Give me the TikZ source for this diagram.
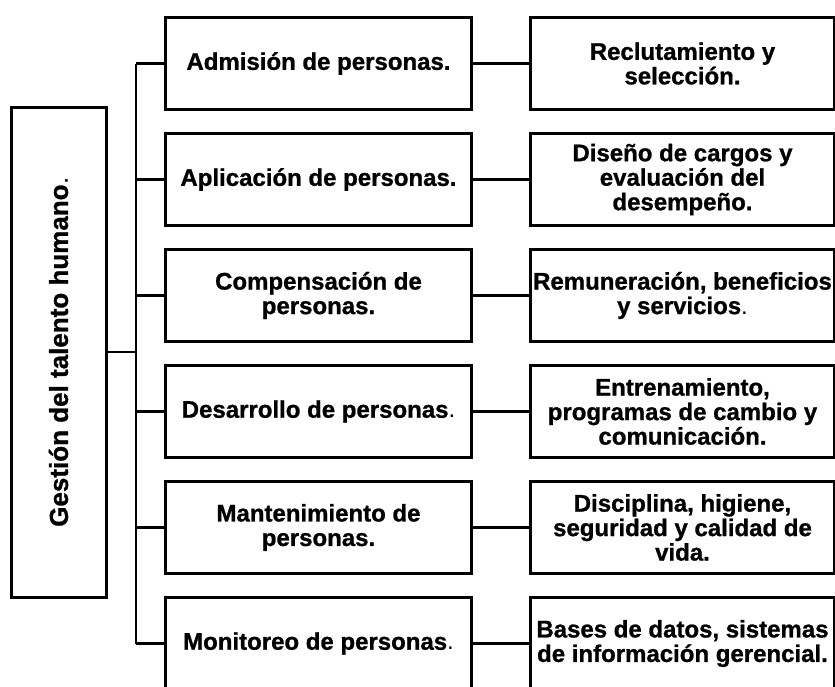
\documentclass[tikz,border=0pt]{standalone}
\usepackage{fontspec}
\setmainfont{Liberation Sans}[BoldFeatures={FakeBold=1}]
\begin{document}
\begin{tikzpicture}[x=1pt,y=-1pt,
  txt/.style={font=\fontsize{24}{24.5}\selectfont\bfseries,align=center,inner sep=0pt},
  midbox/.style={txt,draw,line width=3pt,minimum width=306pt,minimum height=92pt,anchor=north west},
  rightbox/.style={txt,draw,line width=3pt,minimum width=304pt,minimum height=92pt,anchor=north west},
  mainbox/.style={draw,line width=3pt,rotate=90,minimum width=490pt,minimum height=95pt,inner sep=0pt,
    font=\fontsize{26}{28}\selectfont\bfseries},
  conn/.style={line width=2.3pt}]
\useasboundingbox (0,0) rectangle (835,686);
\clip (0,0) rectangle (835,686);

\node[mainbox] (gth) at (58.5,352) {Gestión del talento humano{\mdseries .}};

\node[midbox] (m1) at (164,16)  {Admisión de personas.};
\node[midbox] (m2) at (164,132) {Aplicación de personas.};
\node[midbox] (m3) at (164,248) {Compensación de\\personas.};
\node[midbox] (m4) at (164,364) {Desarrollo de personas{\mdseries .}};
\node[midbox] (m5) at (164,480) {Mantenimiento de\\personas.};
\node[midbox] (m6) at (164,596) {Monitoreo de personas{\mdseries .}};

\node[rightbox] (r1) at (529,16)  {Reclutamiento y\\selección.};
\node[rightbox] (r2) at (529,132) {Diseño de cargos y\\evaluación del\\desempeño.};
\node[rightbox] (r3) at (529,248) {Remuneración, beneficios\\y servicios{\mdseries .}};
\node[rightbox] (r4) at (529,364) {Entrenamiento,\\programas de cambio y\\comunicación.};
\node[rightbox] (r5) at (529,480) {Disciplina, higiene,\\seguridad y calidad de\\vida.};
\node[rightbox] (r6) at (529,596) {Bases de datos, sistemas\\de información gerencial.};

\coordinate (sT) at (136,0);
\draw[conn] (m1.west -| sT) -- (m6.west -| sT);
\draw[conn] (gth.south) -- (gth.south -| sT);
\foreach \i in {1,...,6}{
  \draw[conn] (m\i.west) -- (m\i.west -| sT);
  \draw[conn] (m\i.east) -- (r\i.west);
}
\end{tikzpicture}
\end{document}
